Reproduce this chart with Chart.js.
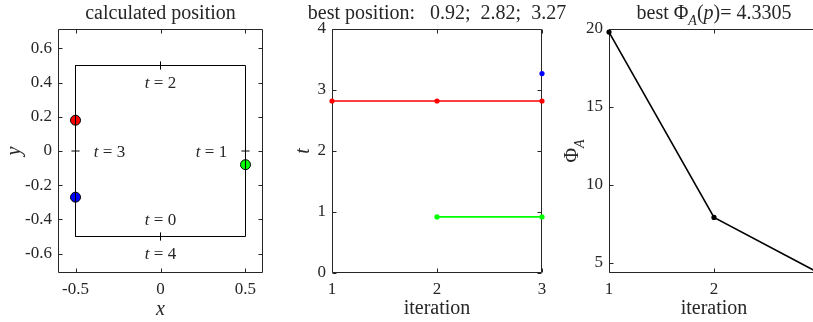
<!DOCTYPE html>
<html>
<head>
<meta charset="utf-8">
<title>optimisation progress</title>
<script src="https://cdn.jsdelivr.net/npm/chart.js@4.4.1/dist/chart.umd.min.js"></script>
<style>
  html, body { margin: 0; padding: 0; background: #fff; overflow: hidden; }
  #wrap { position: relative; width: 813px; height: 322px; overflow: hidden; }
  #wrap canvas { position: absolute; top: 0; }
</style>
</head>
<body>
<div id="wrap">
  <canvas id="pos"  width="280" height="322" style="left:0"></canvas>
  <canvas id="hist" width="310" height="322" style="left:280px"></canvas>
  <canvas id="phi"  width="280" height="322" style="left:560px"></canvas>
</div>
<script>
const SERIF = '"Liberation Serif", "Times New Roman", serif';
const INK = '#262626';
const TICK_PX = 17;
const TITLE_PX = 20;

// ── Data ─────────────────────────────────────────────
const ITERATIONS = [1, 2, 3];
const T_GREEN = [null, 0.92, 0.92];
const T_RED   = [2.82, 2.82, 2.82];
const T_BLUE  = [null, null, 3.27];
const PHI_A   = [19.8, 7.9, 4.3305];

// unit square traced by t, and the t values marked on it
const RECT_X = [-0.5, 0.5, 0.5, -0.5, -0.5];
const RECT_Y = [-0.5, -0.5, 0.5, 0.5, -0.5];
const T_MARKS = [0, 1, 2, 3];
const T_NAMES = [0, 1, 2, 3, 4];
const T_NAME_AT = [[0, -0.4], [0.3, 0], [0, 0.4], [-0.3, 0], [0, -0.6]];

// axis ticks
const POS_X_TICKS = [-0.5, 0, 0.5];
const POS_Y_TICKS = [-0.6, -0.4, -0.2, 0, 0.2, 0.4, 0.6];
const ITER_TICKS  = [1, 2, 3];
const T_TICKS     = [0, 1, 2, 3, 4];
const PHI_TICKS   = [5, 10, 15, 20];

// ── Helpers ──────────────────────────────────────────

/** point on the square perimeter, t=0 at bottom centre, one unit of t per unit length */
function perim(t) {
  const s = ((t % 4) + 4) % 4;
  if (s < 0.5) return { x: s, y: -0.5 };
  if (s < 1.5) return { x: 0.5, y: -0.5 + (s - 0.5) };
  if (s < 2.5) return { x: 0.5 - (s - 1.5), y: 0.5 };
  if (s < 3.5) return { x: -0.5, y: 0.5 - (s - 2.5) };
  return { x: -0.5 + (s - 3.5), y: -0.5 };
}

/** short dash across the perimeter at t (null splits the segments) */
function perimTick(t, h) {
  const p = perim(t);
  const side = Math.abs(Math.abs(p.x) - 0.5) < 1e-9 && Math.abs(p.y) < 0.5;
  return side
    ? [{ x: p.x - h, y: p.y }, { x: p.x + h, y: p.y }, { x: p.x, y: null }]
    : [{ x: p.x, y: p.y - h }, { x: p.x, y: p.y + h }, { x: p.x, y: null }];
}

const last = a => a[a.length - 1];

/** text made of runs: { text, it, sub } — centred on x, baseline at y */
function richText(ctx, runs, x, y, size, rot) {
  const font = r => `${r.it ? 'italic ' : ''}${r.sub ? Math.round(size * 0.72) : size}px ${SERIF}`;
  ctx.save();
  let w = 0;
  const ws = runs.map(r => { ctx.font = font(r); const m = ctx.measureText(r.text).width; w += m; return m; });
  ctx.translate(x, y);
  ctx.rotate(rot || 0);
  ctx.fillStyle = INK;
  ctx.textAlign = 'left';
  ctx.textBaseline = 'alphabetic';
  let cx = -w / 2;
  runs.forEach((r, i) => { ctx.font = font(r); ctx.fillText(r.text, cx, r.sub ? size * 0.28 : 0); cx += ws[i]; });
  ctx.restore();
}

// ── Plugins ──────────────────────────────────────────

/** axes box with inward ticks on all four sides */
const boxTicks = {
  id: 'boxTicks',
  beforeDatasetsDraw(chart) {
    const { ctx, chartArea: a, scales: { x, y } } = chart;
    const L = 4;
    const l = Math.round(a.left) + 0.5, r = Math.round(a.right) - 0.5;
    const t = Math.round(a.top) + 0.5, b = Math.round(a.bottom) - 0.5;
    ctx.save();
    ctx.strokeStyle = INK;
    ctx.lineWidth = 1;
    ctx.beginPath();
    x.ticks.forEach(k => {
      const px = Math.round(x.getPixelForValue(k.value)) + 0.5;
      ctx.moveTo(px, b); ctx.lineTo(px, b - L);
      ctx.moveTo(px, t); ctx.lineTo(px, t + L);
    });
    y.ticks.forEach(k => {
      const py = Math.round(y.getPixelForValue(k.value)) + 0.5;
      ctx.moveTo(l, py); ctx.lineTo(l + L, py);
      ctx.moveTo(r, py); ctx.lineTo(r - L, py);
    });
    ctx.rect(l, t, r - l, b - t);
    ctx.stroke();
    ctx.restore();
  },
};

/** titles, rich axis labels and in-plot notes */
const notes = {
  id: 'notes',
  afterDraw(chart, _args, opts) {
    const { ctx, chartArea: a, scales: { x, y } } = chart;
    if (opts.title) richText(ctx, opts.title, (a.left + a.right) / 2, 19, TITLE_PX);
    if (opts.yLabel) richText(ctx, opts.yLabel, opts.yLabelX, (a.top + a.bottom) / 2, TITLE_PX, -Math.PI / 2);
    (opts.marks || []).forEach(m => {
      richText(ctx, m.runs, x.getPixelForValue(m.x), y.getPixelForValue(m.y) + 5.5, TICK_PX);
    });
  },
};

Chart.register(boxTicks, notes);

// ── Shared options ───────────────────────────────────

function axis(min, max, ticks, fitSize, title, titlePad) {
  return {
    type: 'linear', min, max,
    grid: { display: false, drawTicks: false },
    border: { display: false },
    afterBuildTicks: s => { s.ticks = ticks.map(v => ({ value: v })); },
    afterFit: s => { if (s.isHorizontal()) s.height = fitSize; else s.width = fitSize; },
    ticks: { color: INK, padding: 6, font: { family: SERIF, size: TICK_PX }, callback: v => String(v) },
    title: title
      ? { display: true, color: INK, padding: titlePad, font: { family: SERIF, size: TITLE_PX, style: title.it ? 'italic' : 'normal' }, text: title.text }
      : { display: false },
  };
}

function baseOptions(padRight, xAxis, yAxis, notesOpts) {
  return {
    responsive: false, animation: false,
    layout: { padding: { top: 29, right: padRight, bottom: 0, left: 0 } },
    plugins: { legend: { display: false }, tooltip: { enabled: false }, notes: notesOpts },
    scales: { x: xAxis, y: yAxis },
  };
}

const seq = (xs, ys) => xs.map((v, i) => ({ x: v, y: ys[i] }));

// ── Panel 1: calculated position on the square ──────

const bestT = [last(T_GREEN), last(T_RED), last(T_BLUE)];
const dotColors = ['#00ff00', '#ff0000', '#0000ff'];
const tickSegs = T_MARKS.flatMap(t => perimTick(t, 0.024));

new Chart(document.getElementById('pos'), {
  type: 'scatter',
  data: {
    datasets: [
      { data: seq(RECT_X, RECT_Y), showLine: true, borderColor: '#000', borderWidth: 1, pointRadius: 0, clip: false },
      { data: tickSegs, showLine: true, spanGaps: false, borderColor: '#000', borderWidth: 1, pointRadius: 0, clip: false },
      ...bestT.map((t, i) => ({
        data: [perim(t)], pointRadius: 5, pointBackgroundColor: dotColors[i],
        pointBorderColor: '#000', pointBorderWidth: 1, clip: false,
      })),
    ],
  },
  options: baseOptions(
    17,
    axis(-0.603, 0.603, POS_X_TICKS, 49, { text: 'x', it: true }, { top: 0, bottom: 0 }),
    axis(-0.7135, 0.7135, POS_Y_TICKS, 58, { text: 'y', it: true }, { top: 3, bottom: 0 }),
    {
      title: [{ text: 'calculated position' }],
      marks: T_NAMES.map((n, i) => ({ x: T_NAME_AT[i][0], y: T_NAME_AT[i][1], runs: [{ text: 't', it: true }, { text: ' = ' + n }] })),
    },
  ),
});

// ── Panel 2: best t per iteration ────────────────────

const histLine = (ys, color) => ({
  data: seq(ITERATIONS, ys), showLine: true, spanGaps: false,
  borderColor: color, borderWidth: 1.6, pointRadius: 2.6, pointBorderWidth: 0,
  pointBackgroundColor: color, clip: false,
});

new Chart(document.getElementById('hist'), {
  type: 'scatter',
  data: { datasets: [histLine(T_GREEN, '#00ff00'), histLine(T_RED, '#ff0000'), histLine(T_BLUE, '#0000ff')] },
  options: baseOptions(
    48,
    axis(1, 3, ITER_TICKS, 49, { text: 'iteration' }, { top: 0, bottom: 1 }),
    axis(0, 4, T_TICKS, 52, { text: 't', it: true }, { top: 12, bottom: 0 }),
    { title: [{ text: 'best position:   ' + bestT.map(v => v.toFixed(2)).join(';  ') }] },
  ),
});

// ── Panel 3: objective per iteration ─────────────────

new Chart(document.getElementById('phi'), {
  type: 'scatter',
  data: {
    datasets: [{
      data: seq(ITERATIONS, PHI_A), showLine: true, borderColor: '#000', borderWidth: 1.6,
      pointRadius: 2.6, pointBorderWidth: 0, pointBackgroundColor: '#000', clip: false,
    }],
  },
  options: baseOptions(
    21,
    axis(1, 3, ITER_TICKS, 49, { text: 'iteration' }, { top: 0, bottom: 1 }),
    axis(last(PHI_A), 20, PHI_TICKS, 49, null),
    {
      title: [{ text: 'best ' }, { text: 'Φ' }, { text: 'A', it: true, sub: true }, { text: '(' }, { text: 'p', it: true }, { text: ')= ' + last(PHI_A).toFixed(4) }],
      yLabel: [{ text: 'Φ' }, { text: 'A', it: true, sub: true }],
      yLabelX: 18,
    },
  ),
});
</script>
</body>
</html>
